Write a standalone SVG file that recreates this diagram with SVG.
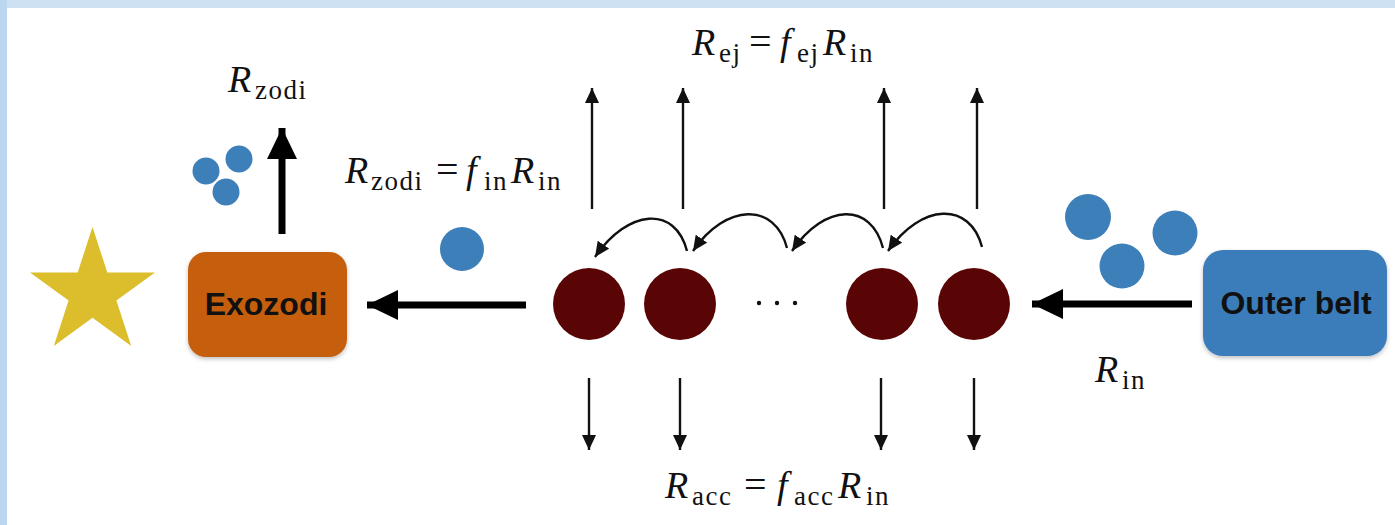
<svg xmlns="http://www.w3.org/2000/svg" width="1395" height="525" viewBox="0 0 1395 525">
  <style>
    .math { font-family: "Liberation Serif", "Times New Roman", serif; fill: #111; }
    .math tspan { font-family: "Liberation Serif", "Times New Roman", serif; }
    .it { font-style: italic; font-size: 38px; }
    .sub { font-size: 27px; letter-spacing: 1.5px; }
    .eq { font-size: 40px; }
    .lbl { font-family: "Liberation Sans", Arial, sans-serif; font-weight: bold; font-size: 32px; fill: #111; text-anchor: middle; }
    .thin { fill: none; stroke: #111; stroke-width: 2.4; }
    .thick { fill: none; stroke: #000; stroke-width: 7; }
    .dust { fill: #3d80b9; }
    .planet { fill: #5a0505; }
  </style>
  <defs>
    <marker id="ah" markerUnits="userSpaceOnUse" markerWidth="16" markerHeight="14" refX="15" refY="7" orient="auto">
      <path d="M0,0 L15,7 L0,14 z" fill="#111"/>
    </marker>
    <marker id="ahb" markerUnits="userSpaceOnUse" markerWidth="32" markerHeight="30" refX="31" refY="15" orient="auto">
      <path d="M0,0 L31,15 L0,30 z" fill="#000"/>
    </marker>
    <filter id="sh" x="-10%" y="-10%" width="120%" height="130%">
      <feDropShadow dx="0" dy="2" stdDeviation="2" flood-color="#000" flood-opacity="0.25"/>
    </filter>
  </defs>

  <rect x="0" y="0" width="1395" height="525" fill="#ffffff"/>
  <rect x="0" y="0" width="1395" height="8" fill="#cde1f3"/>
  <rect x="0" y="0" width="7" height="525" fill="#bdd6ef"/>

  <g id="star">
    <polygon points="92.5,227 107.3,272.4 155,272.4 116.4,300.5 131.2,345.9 92.5,317.8 53.8,345.9 68.6,300.5 30,272.4 77.7,272.4" fill="#dcbe2c"/>
  </g>

  <g id="exozodi">
    <rect x="188" y="252" width="159" height="105" rx="18" ry="18" fill="#c65e10" filter="url(#sh)"/>
    <text class="lbl" x="266" y="315">Exozodi</text>
  </g>

  <g id="outer-belt">
    <rect x="1203" y="250" width="184" height="106" rx="20" ry="20" fill="#3b7dba" filter="url(#sh)"/>
    <text class="lbl" x="1296" y="314">Outer belt</text>
  </g>

  <g id="dust-exozodi">
    <circle class="dust" cx="206" cy="171" r="13.5"/>
    <circle class="dust" cx="239" cy="159" r="13.5"/>
    <circle class="dust" cx="226" cy="192" r="13.5"/>
  </g>
  <g id="dust-single">
    <circle class="dust" cx="462" cy="249" r="22"/>
  </g>
  <g id="dust-outer">
    <circle class="dust" cx="1088" cy="217" r="23"/>
    <circle class="dust" cx="1175" cy="233" r="22.5"/>
    <circle class="dust" cx="1122" cy="266" r="22.5"/>
  </g>

  <g id="planets">
    <g id="planet1"><circle class="planet" cx="589" cy="304" r="36"/></g>
    <g id="planet2"><circle class="planet" cx="680" cy="304" r="36"/></g>
    <g id="ellipsis">
      <circle cx="759" cy="303" r="2.2" fill="#111"/>
      <circle cx="777" cy="303" r="2.2" fill="#111"/>
      <circle cx="795" cy="303" r="2.2" fill="#111"/>
    </g>
    <g id="planet3"><circle class="planet" cx="882" cy="304" r="36"/></g>
    <g id="planet4"><circle class="planet" cx="974" cy="304" r="36"/></g>
  </g>

  <g id="connectors">
    <line class="thick" x1="282" y1="234" x2="282" y2="128" marker-end="url(#ahb)"/>
    <line class="thick" x1="526" y1="305" x2="367" y2="305" marker-end="url(#ahb)"/>
    <line class="thick" x1="1192" y1="304" x2="1032" y2="304" marker-end="url(#ahb)"/>

    <line class="thin" x1="592" y1="209" x2="592" y2="88" marker-end="url(#ah)"/>
    <line class="thin" x1="683" y1="209" x2="683" y2="88" marker-end="url(#ah)"/>
    <line class="thin" x1="884" y1="209" x2="884" y2="88" marker-end="url(#ah)"/>
    <line class="thin" x1="977" y1="209" x2="977" y2="88" marker-end="url(#ah)"/>

    <line class="thin" x1="589" y1="378" x2="589" y2="450" marker-end="url(#ah)"/>
    <line class="thin" x1="680" y1="378" x2="680" y2="450" marker-end="url(#ah)"/>
    <line class="thin" x1="881" y1="378" x2="881" y2="450" marker-end="url(#ah)"/>
    <line class="thin" x1="974" y1="378" x2="974" y2="450" marker-end="url(#ah)"/>

    <path class="thin" d="M687,251 C675,205 628,209 595,257" marker-end="url(#ah)"/>
    <path class="thin" d="M787,248 C775,202 726,203 693,251" marker-end="url(#ah)"/>
    <path class="thin" d="M883,248 C871,202 825,203 792,251" marker-end="url(#ah)"/>
    <path class="thin" d="M982,247 C970,201 921,203 888,251" marker-end="url(#ah)"/>
  </g>

  <g id="labels">
    <text class="math"><tspan class="it" x="228" y="92">R</tspan><tspan class="sub" x="255" y="99">zodi</tspan></text>

    <text class="math"><tspan class="it" x="345" y="183">R</tspan><tspan class="sub" x="371" y="190">zodi</tspan><tspan class="eq" x="436" y="183">=</tspan><tspan class="it" x="466" y="183">f</tspan><tspan class="sub" x="484" y="190">in</tspan><tspan class="it" x="511" y="183">R</tspan><tspan class="sub" x="538" y="190">in</tspan></text>

    <text class="math"><tspan class="it" x="692" y="55">R</tspan><tspan class="sub" x="719" y="62">ej</tspan><tspan class="eq" x="749" y="55">=</tspan><tspan class="it" x="780" y="55">f</tspan><tspan class="sub" x="797" y="62">ej</tspan><tspan class="it" x="823" y="55">R</tspan><tspan class="sub" x="850" y="62">in</tspan></text>

    <text class="math"><tspan class="it" x="665" y="498">R</tspan><tspan class="sub" x="692" y="505">acc</tspan><tspan class="eq" x="744" y="498">=</tspan><tspan class="it" x="777" y="498">f</tspan><tspan class="sub" x="794" y="505">acc</tspan><tspan class="it" x="838" y="498">R</tspan><tspan class="sub" x="866" y="505">in</tspan></text>

    <text class="math"><tspan class="it" x="1095" y="382">R</tspan><tspan class="sub" x="1122" y="389">in</tspan></text>
  </g>
</svg>
